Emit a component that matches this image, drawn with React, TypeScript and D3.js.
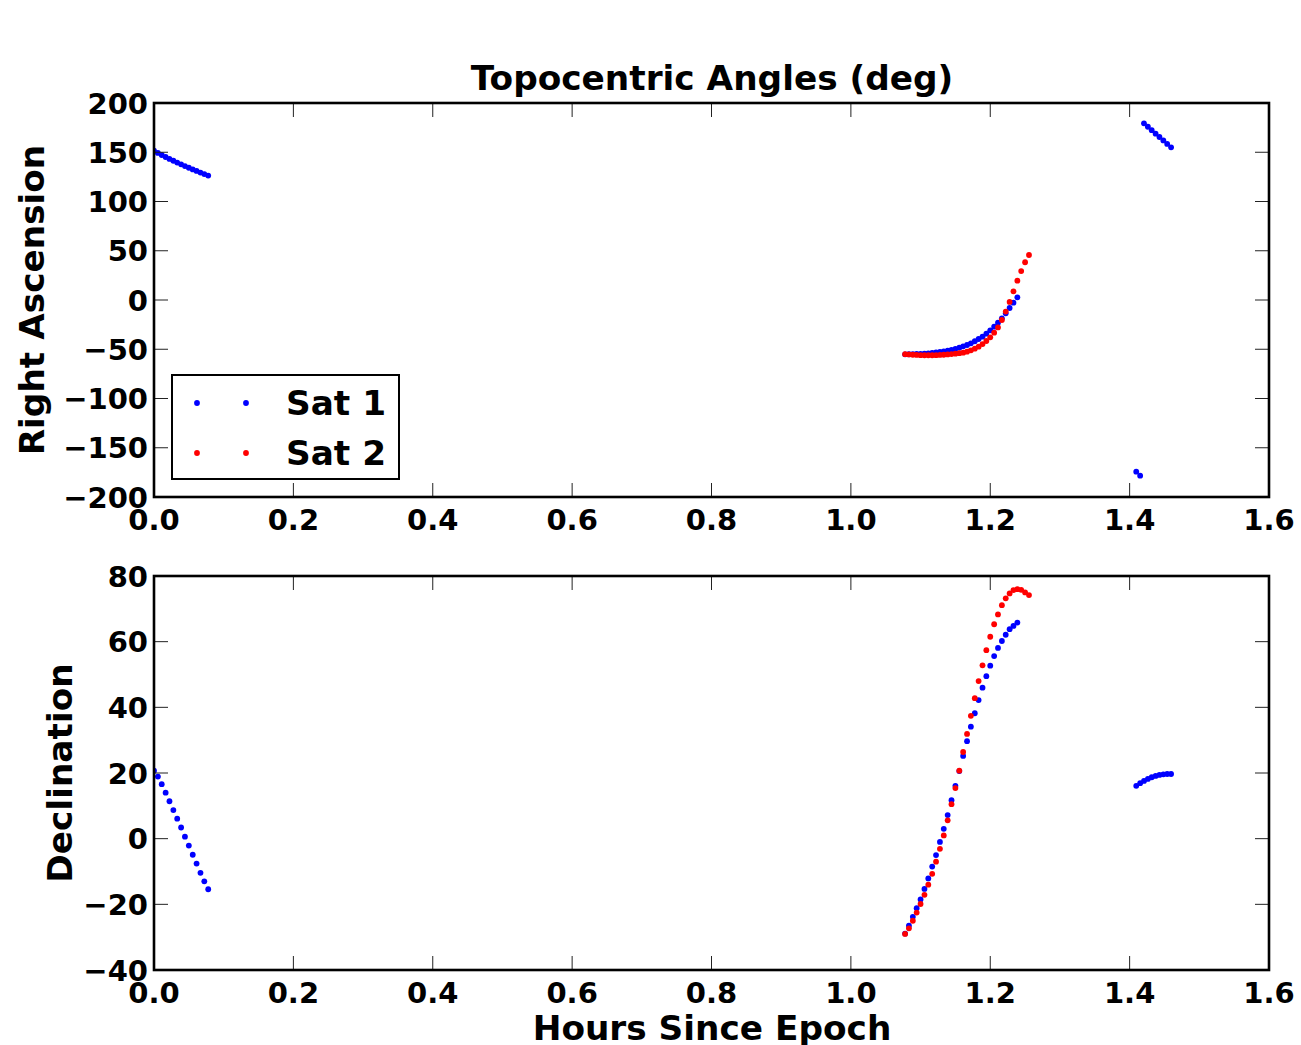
import React from "react";
import * as d3 from "d3";

// ---- Data (hours since epoch, degrees) ----
const sat1TimesA = [0, 0.0056, 0.0111, 0.0167, 0.0222, 0.0278, 0.0333, 0.0389, 0.0444, 0.05, 0.0556, 0.0611, 0.0667, 0.0722, 0.0778];
const sat1RaA = [151.5, 149.3, 147.2, 145.2, 143.25, 141.35, 139.5, 137.7, 135.95, 134.25, 132.6, 131.0, 129.4, 127.85, 126.35];
const sat1DecA = [20.7, 18.9, 16.6, 14.0, 11.4, 8.7, 6.1, 3.4, 0.6, -2.1, -4.9, -7.6, -10.4, -13.0, -15.4];

const passTimes = [1.0778, 1.0833, 1.0889, 1.0944, 1.1, 1.1056, 1.1111, 1.1167, 1.1222, 1.1278, 1.1333, 1.1389, 1.1444, 1.15, 1.1556, 1.1611, 1.1667, 1.1722, 1.1778, 1.1833, 1.1889, 1.1944, 1.2, 1.2056, 1.2111, 1.2167, 1.2222, 1.2278, 1.2333, 1.2389, 1.2444, 1.25, 1.2556];

const sat1RaB = [-55.2, -55.1, -55.0, -54.8, -54.6, -54.4, -54.1, -53.7, -53.3, -52.8, -52.2, -51.5, -50.6, -49.6, -48.4, -47.0, -45.7, -44.0, -41.9, -39.6, -37.2, -34.2, -30.8, -27.1, -23.0, -18.6, -13.5, -8.1, -2.7, 2.7];
const sat1DecB = [-28.9, -26.5, -23.8, -21.2, -18.5, -15.3, -12.1, -8.5, -5.0, -1.0, 3.0, 7.2, 11.7, 16.1, 20.6, 25.2, 29.7, 34.1, 38.2, 42.2, 46.0, 49.5, 52.7, 55.6, 58.1, 60.2, 62.1, 63.8, 64.8, 65.8];

const sat2Ra = [-55.0, -55.3, -55.6, -55.8, -56.0, -56.1, -56.1, -56.1, -56.0, -55.8, -55.6, -55.3, -54.9, -54.5, -54.0, -53.5, -52.5, -51.1, -49.4, -47.4, -44.7, -41.6, -37.9, -33.2, -27.8, -20.3, -11.8, -2.0, 8.8, 19.6, 29.4, 38.3, 45.7];
const sat2Dec = [-29.0, -27.3, -25.0, -22.5, -19.9, -17.1, -14.0, -10.7, -7.0, -3.1, 1.0, 5.6, 10.5, 15.4, 20.7, 26.4, 31.9, 37.4, 42.8, 48.0, 52.8, 57.4, 61.5, 65.3, 68.3, 71.1, 73.2, 74.7, 75.7, 76.0, 75.8, 75.0, 74.2];

const sat1TimesC = [1.4095, 1.4151, 1.4206, 1.4262, 1.4317, 1.4373, 1.4428, 1.4484, 1.4539, 1.4595];
const sat1RaC = [-174.3, -178.3, 179.4, 175.9, 172.4, 168.9, 165.5, 162.0, 158.5, 155.0];
const sat1DecC = [16.1, 16.9, 17.6, 18.2, 18.7, 19.1, 19.4, 19.6, 19.7, 19.7];

const xTicks = [0, 0.2, 0.4, 0.6, 0.8, 1.0, 1.2, 1.4, 1.6];
const raTicks = [-200, -150, -100, -50, 0, 50, 100, 150, 200];
const decTicks = [-40, -20, 0, 20, 40, 60, 80];

const seriesNames = ["Sat 1", "Sat 2"];
const seriesColors = ["#0000ff", "#ff0000"];

type Pt = { t: number; v: number };
const zip = (ts: number[], vs: number[]): Pt[] => vs.map((v, i) => ({ t: ts[i], v }));

const sat1Ra: Pt[] = [...zip(sat1TimesA, sat1RaA), ...zip(passTimes, sat1RaB), ...zip(sat1TimesC, sat1RaC)];
const sat1Dec: Pt[] = [...zip(sat1TimesA, sat1DecA), ...zip(passTimes, sat1DecB), ...zip(sat1TimesC, sat1DecC)];
const sat2RaPts: Pt[] = zip(passTimes, sat2Ra);
const sat2DecPts: Pt[] = zip(passTimes, sat2Dec);

const W = 1301, H = 1045;
const left = 154, right = 1269;
const FONT = "'DejaVu Sans', sans-serif";
const TICK_FS = 29;
const LABEL_FS = 34.3;
const R = 2.9;
const minus = (s: string) => s.replace("-", "\u2212");

function Panel({ top, bottom, yDomain, yTicks, series, id, yLabel, yLabelX }: any) {
  const x = d3.scaleLinear().domain([0, 1.6]).range([left, right]);
  const y = d3.scaleLinear().domain(yDomain).range([bottom, top]);
  const tl = 14;
  return (
    <g>
      <defs>
        <clipPath id={id}>
          <rect x={left} y={top} width={right - left} height={bottom - top} />
        </clipPath>
      </defs>
      <g clipPath={`url(#${id})`}>
        {series.map((s: any, si: number) =>
          s.pts.map((p: Pt, i: number) => (
            <circle key={si + "-" + i} cx={x(p.t)} cy={y(p.v)} r={R} fill={s.color} />
          ))
        )}
      </g>
      {xTicks.map((t) => (
        <g key={"xt" + t}>
          <line x1={x(t)} x2={x(t)} y1={bottom} y2={bottom - tl} stroke="#222" strokeWidth={1} />
          <line x1={x(t)} x2={x(t)} y1={top} y2={top + tl} stroke="#222" strokeWidth={1} />
          <text x={x(t)} y={bottom + 33} textAnchor="middle" fontFamily={FONT} fontWeight="bold" fontSize={TICK_FS}>
            {d3.format(".1f")(t)}
          </text>
        </g>
      ))}
      {yTicks.map((v: number) => (
        <g key={"yt" + v}>
          <line x1={left} x2={left + tl} y1={y(v)} y2={y(v)} stroke="#222" strokeWidth={1} />
          <line x1={right} x2={right - tl} y1={y(v)} y2={y(v)} stroke="#222" strokeWidth={1} />
          <text x={left - 6} y={y(v) + 10.5} textAnchor="end" fontFamily={FONT} fontWeight="bold" fontSize={TICK_FS}>
            {minus(String(v))}
          </text>
        </g>
      ))}
      <rect x={left} y={top} width={right - left} height={bottom - top} fill="none" stroke="#000" strokeWidth={2.6} />
      <text
        transform={`translate(${yLabelX},${(top + bottom) / 2}) rotate(-90)`}
        textAnchor="middle"
        fontFamily={FONT}
        fontWeight="bold"
        fontSize={LABEL_FS}
      >
        {yLabel}
      </text>
    </g>
  );
}

export default function App() {
  return (
    <svg width={W} height={H} style={{ position: "absolute", left: 0, top: 0, background: "#fff" }}>
      <rect x={0} y={0} width={W} height={H} fill="#fff" />
      <text x={712} y={90} textAnchor="middle" fontFamily={FONT} fontWeight="bold" fontSize={LABEL_FS}>
        Topocentric Angles (deg)
      </text>
      <Panel
        id="c1"
        top={103}
        bottom={497}
        yDomain={[-200, 200]}
        yTicks={raTicks}
        yLabel="Right Ascension"
        yLabelX={44}
        series={[
          { pts: sat1Ra, color: seriesColors[0] },
          { pts: sat2RaPts, color: seriesColors[1] },
        ]}
      />
      <Panel
        id="c2"
        top={576}
        bottom={970}
        yDomain={[-40, 80]}
        yTicks={decTicks}
        yLabel="Declination"
        yLabelX={72}
        series={[
          { pts: sat1Dec, color: seriesColors[0] },
          { pts: sat2DecPts, color: seriesColors[1] },
        ]}
      />
      <text x={712} y={1040} textAnchor="middle" fontFamily={FONT} fontWeight="bold" fontSize={LABEL_FS}>
        Hours Since Epoch
      </text>
      {/* Legend */}
      <g>
        <rect x={172} y={375} width={227} height={104} fill="#fff" stroke="#000" strokeWidth={2} />
        {seriesNames.map((n, i) => (
          <g key={n}>
            <circle cx={197} cy={403 + i * 50} r={R} fill={seriesColors[i]} />
            <circle cx={246} cy={403 + i * 50} r={R} fill={seriesColors[i]} />
            <text x={286} y={415 + i * 50} fontFamily={FONT} fontWeight="bold" fontSize={LABEL_FS}>
              {n}
            </text>
          </g>
        ))}
      </g>
    </svg>
  );
}
